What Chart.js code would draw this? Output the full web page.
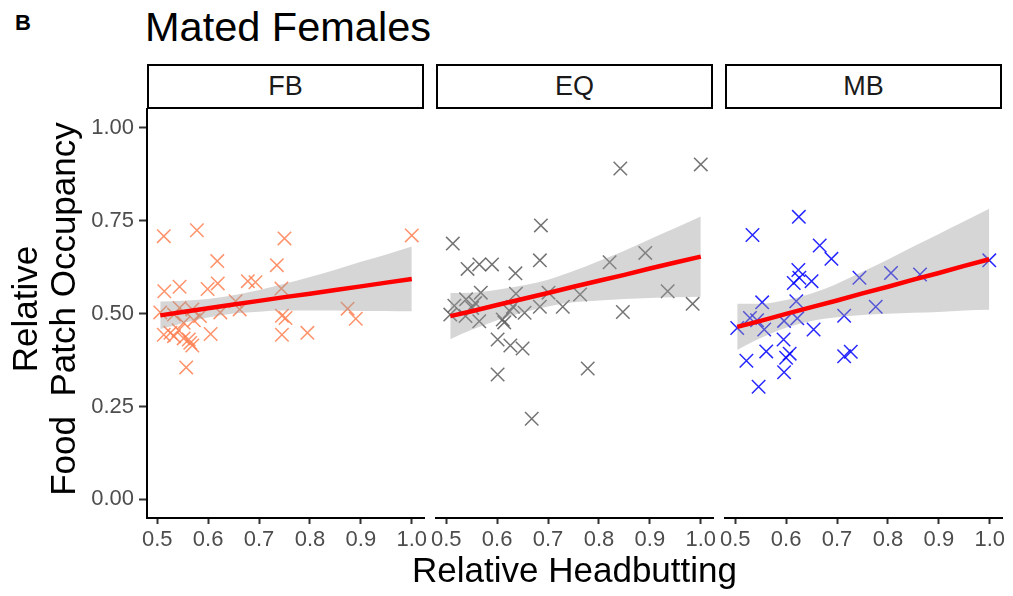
<!DOCTYPE html>
<html>
<head>
<meta charset="utf-8">
<script src="https://cdn.jsdelivr.net/npm/chart.js@4"></script>
<style>
body { margin: 0; background: #fff; font-family: "Liberation Sans", Arial, Helvetica, sans-serif; }
#wrap { position: relative; width: 1013px; height: 596px; overflow: hidden; }
canvas { position: absolute; left: 0; top: 0; }
.strip { position: absolute; top: 64px; height: 45px; box-sizing: border-box; border: 2px solid #000;
  font-size: 27px; color: #1a1a1a; text-align: center; line-height: 41px; }
#tag { position: absolute; left: 15px; top: 10px; font-size: 22px; font-weight: bold; line-height: 26px; }
#title { position: absolute; left: 145px; top: 4px; font-size: 41.5px; line-height: 46px; color: #000; }
#xtitle { position: absolute; left: 147px; width: 855px; top: 550px; font-size: 35px; line-height: 40px; text-align: center; }
#ytitle { position: absolute; left: -166px; top: 271px; width: 420px; height: 76px; font-size: 35px; line-height: 38px;
  text-align: center; white-space: pre; transform: rotate(-90deg); transform-origin: 50% 50%; }
</style>
</head>
<body>
<div id="wrap">
  <div id="tag">B</div>
  <div id="title">Mated Females</div>
  <div class="strip" style="left:147px;width:277px">FB</div>
  <div class="strip" style="left:436px;width:277px">EQ</div>
  <div class="strip" style="left:725px;width:277px">MB</div>
  <canvas id="fb" width="1013" height="596"></canvas>
  <canvas id="eq" width="1013" height="596"></canvas>
  <canvas id="mb" width="1013" height="596"></canvas>
  <div id="ytitle">Relative
Food  Patch Occupancy</div>
  <div id="xtitle">Relative Headbutting</div>
</div>
<script>
//Tick labels
const xTicks = [0.5, 0.6, 0.7, 0.8, 0.9, 1.0];
const yTicks = [0, 0.25, 0.5, 0.75, 1.0];

//FB points
const fbX = [0.513, 0.578, 0.750, 1.000, 0.618, 0.735, 0.514, 0.544, 0.599, 0.619, 0.678, 0.693, 0.744,
  0.506, 0.544, 0.569, 0.584, 0.572, 0.552, 0.533, 0.624, 0.654, 0.662, 0.745, 0.752, 0.874, 0.890,
  0.513, 0.526, 0.533, 0.542, 0.552, 0.562, 0.565, 0.569, 0.605, 0.745, 0.795, 0.557];
const fbY = [0.708, 0.724, 0.702, 0.710, 0.641, 0.630, 0.560, 0.572, 0.566, 0.581, 0.587, 0.584, 0.567,
  0.503, 0.515, 0.511, 0.493, 0.482, 0.475, 0.497, 0.503, 0.533, 0.511, 0.494, 0.488, 0.513, 0.486,
  0.443, 0.448, 0.439, 0.455, 0.433, 0.430, 0.421, 0.414, 0.445, 0.443, 0.448, 0.355];

//EQ points
const eqX = [0.508, 0.516, 0.513, 0.538, 0.539, 0.542, 0.551, 0.557, 0.565, 0.565, 0.568, 0.590, 0.601,
  0.601, 0.611, 0.614, 0.625, 0.626, 0.631, 0.636, 0.637, 0.650, 0.654, 0.668, 0.684, 0.686, 0.684,
  0.701, 0.729, 0.763, 0.778, 0.821, 0.842, 0.847, 0.891, 0.935, 0.984, 1.000];
const eqY = [0.497, 0.521, 0.688, 0.493, 0.538, 0.620, 0.515, 0.528, 0.632, 0.479, 0.556, 0.632, 0.430,
  0.336, 0.484, 0.476, 0.506, 0.414, 0.518, 0.608, 0.553, 0.406, 0.502, 0.217, 0.643, 0.737, 0.518,
  0.556, 0.518, 0.551, 0.352, 0.638, 0.890, 0.504, 0.663, 0.560, 0.526, 0.901];

//MB points
const mbX = [0.504, 0.522, 0.529, 0.534, 0.543, 0.546, 0.553, 0.557, 0.561, 0.596, 0.595, 0.596, 0.600,
  0.607, 0.615, 0.620, 0.622, 0.624, 0.625, 0.626, 0.650, 0.654, 0.666, 0.689, 0.714, 0.714, 0.727,
  0.744, 0.776, 0.806, 0.863, 0.999];
const mbY = [0.461, 0.373, 0.488, 0.711, 0.482, 0.303, 0.530, 0.457, 0.398, 0.480, 0.430, 0.342, 0.381,
  0.392, 0.582, 0.533, 0.487, 0.617, 0.760, 0.596, 0.587, 0.457, 0.683, 0.647, 0.494, 0.385, 0.397,
  0.596, 0.518, 0.609, 0.605, 0.643];

//Fitted lines + confidence band
const fbFitX = [0.506, 0.55, 0.6, 0.65, 0.7, 0.75, 0.8, 0.85, 0.9, 0.95, 1.0];
const fbFit = [0.495, 0.504, 0.514, 0.524, 0.534, 0.544, 0.553, 0.563, 0.573, 0.583, 0.593];
const fbLow = [0.458, 0.474, 0.489, 0.500, 0.505, 0.508, 0.508, 0.508, 0.507, 0.507, 0.506];
const fbUp = [0.532, 0.534, 0.539, 0.549, 0.563, 0.580, 0.598, 0.618, 0.639, 0.659, 0.680];

const eqFitX = [0.508, 0.55, 0.6, 0.65, 0.7, 0.75, 0.8, 0.85, 0.9, 0.95, 1.0];
const eqFit = [0.493, 0.506, 0.523, 0.539, 0.555, 0.572, 0.588, 0.604, 0.621, 0.637, 0.653];
const eqLow = [0.431, 0.456, 0.482, 0.503, 0.519, 0.530, 0.535, 0.539, 0.542, 0.544, 0.545];
const eqUp = [0.555, 0.556, 0.564, 0.575, 0.591, 0.614, 0.641, 0.669, 0.700, 0.730, 0.761];

const mbFitX = [0.504, 0.55, 0.6, 0.65, 0.7, 0.75, 0.8, 0.85, 0.9, 0.95, 0.999];
const mbFit = [0.464, 0.480, 0.499, 0.517, 0.535, 0.554, 0.572, 0.591, 0.609, 0.628, 0.646];
const mbLow = [0.402, 0.434, 0.462, 0.480, 0.490, 0.496, 0.499, 0.502, 0.504, 0.508, 0.510];
const mbUp = [0.526, 0.526, 0.536, 0.554, 0.580, 0.612, 0.645, 0.680, 0.714, 0.748, 0.782];

Chart.defaults.font.family = '"Liberation Sans", Arial, Helvetica, sans-serif';

const zip = (xs, ys) => xs.map((x, i) => ({ x: x, y: ys[i] }));

//one facet panel per canvas
const panel = (id, xs, ys, fitX, fit, low, up, color, left, right, showY) => {
    new Chart(document.getElementById(id), {
        type: 'scatter',
        data: {
            datasets: [
                { data: zip(fitX, fit), showLine: true, borderColor: '#ff0000', borderWidth: 4.5, pointRadius: 0, order: 0 },
                { data: zip(fitX, up), showLine: true, borderColor: 'rgba(0,0,0,0)', borderWidth: 0, pointRadius: 0,
                  cubicInterpolationMode: 'monotone', fill: false, order: 1 },
                { data: zip(fitX, low), showLine: true, borderColor: 'rgba(0,0,0,0)', borderWidth: 0, pointRadius: 0,
                  cubicInterpolationMode: 'monotone', fill: '-1', backgroundColor: 'rgba(153,153,153,0.4)', order: 1 },
                { data: zip(xs, ys), pointStyle: 'crossRot', pointRadius: 9.5, borderColor: color, borderWidth: 1.5, order: 2 }
            ]
        },
        options: {
            responsive: false,
            animation: false,
            devicePixelRatio: 1,
            layout: { padding: { left: left, right: right, top: 109, bottom: 28 } },
            plugins: { legend: { display: false }, tooltip: { enabled: false } },
            scales: {
                x: {
                    type: 'linear', min: 0.48, max: 1.024,
                    afterBuildTicks: (s) => { s.ticks = xTicks.map((v) => ({ value: v })); },
                    afterFit: (s) => { s.height = 50; s.paddingLeft = 0; s.paddingRight = 0; },
                    grid: { drawOnChartArea: false, drawTicks: true, tickLength: 6, tickColor: '#333333', tickWidth: 2 },
                    border: { display: true, color: '#000', width: 2 },
                    ticks: { color: '#4d4d4d', font: { size: 22 }, padding: 3, maxRotation: 0, autoSkip: false,
                             callback: (v) => v.toFixed(1) }
                },
                y: {
                    type: 'linear', min: -0.05, max: 1.05, display: showY,
                    afterBuildTicks: (s) => { s.ticks = yTicks.map((v) => ({ value: v })); },
                    afterFit: (s) => { s.width = showY ? 66 : 0; },
                    grid: { drawOnChartArea: false, drawTicks: true, tickLength: 8, tickColor: '#333333', tickWidth: 2 },
                    border: { display: true, color: '#000', width: 2 },
                    ticks: { color: '#4d4d4d', font: { size: 22 }, padding: 5, autoSkip: false,
                             callback: (v) => v.toFixed(2) }
                }
            }
        }
    });
};

panel('fb', fbX, fbY, fbFitX, fbFit, fbLow, fbUp, 'rgba(255,127,80,0.85)', 81, 589, true);
panel('eq', eqX, eqY, eqFitX, eqFit, eqLow, eqUp, 'rgba(90,90,90,0.85)', 436, 300, false);
panel('mb', mbX, mbY, mbFitX, mbFit, mbLow, mbUp, 'rgba(0,0,255,0.85)', 725, 11, false);
</script>
</body>
</html>
